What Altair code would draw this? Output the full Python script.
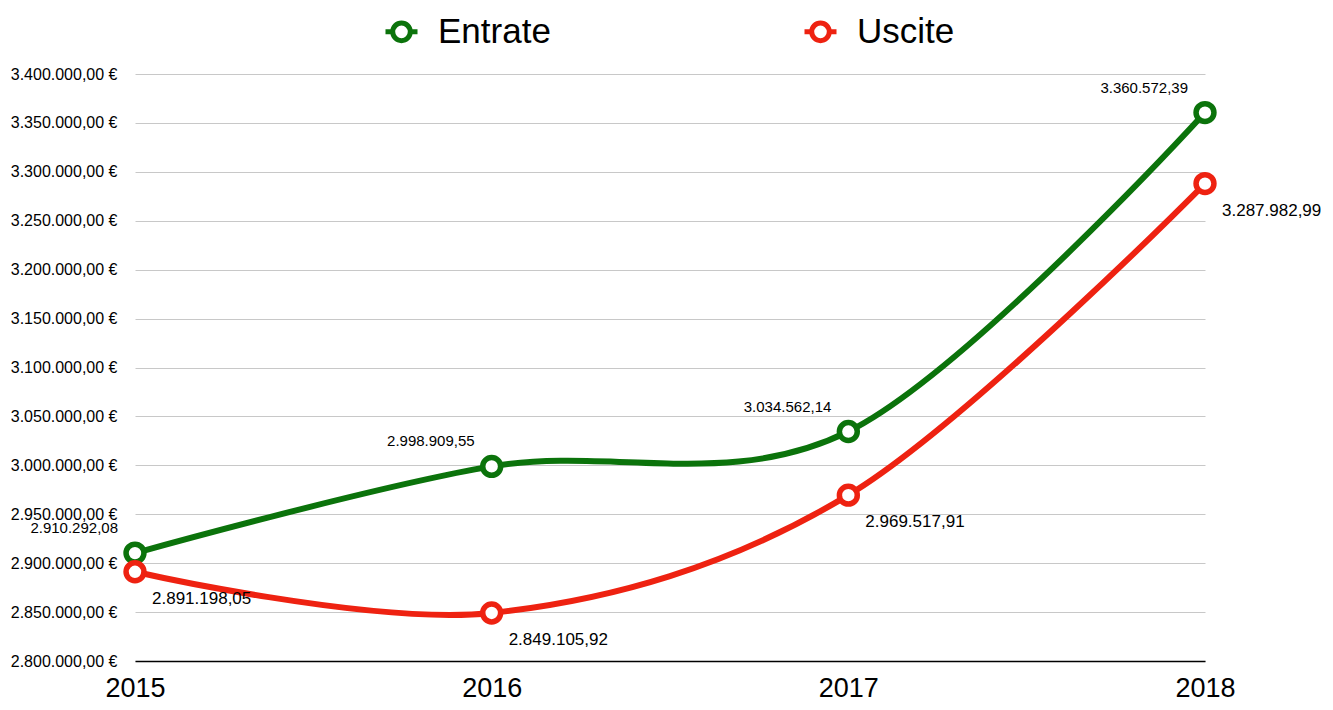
import altair as alt
import pandas as pd

years = ["2015", "2016", "2017", "2018"]
entrate = [2910292.08, 2998909.55, 3034562.14, 3360572.39]
uscite = [2891198.05, 2849105.92, 2969517.91, 3287982.99]
series_names = ["Entrate", "Uscite"]
series_colors = ["#0b730b", "#ee2211"]
y_ticks = [2800000 + 50000 * i for i in range(13)]

rows = []
for y, v in zip(years, entrate):
    rows.append({"year": y, "value": v, "serie": "Entrate"})
for y, v in zip(years, uscite):
    rows.append({"year": y, "value": v, "serie": "Uscite"})
df = pd.DataFrame(rows)

color = alt.Color(
    "serie:N",
    scale=alt.Scale(domain=series_names, range=series_colors),
    legend=alt.Legend(
        title=None,
        orient="none",
        legendX=248,
        legendY=-61,
        direction="horizontal",
        symbolType="M -1 0 L -0.55 0 M 0.55 0 L 1 0 M -0.55 0 A 0.55 0.55 0 1 0 0.55 0 A 0.55 0.55 0 1 0 -0.55 0",
        symbolSize=1024,
        symbolStrokeWidth=5,
        symbolFillColor="white",
        labelFontSize=35,
        labelFont="Liberation Sans",
        labelColor="black",
        labelOffset=18,
        columnPadding=243,
        labelLimit=300,
    ),
)

x = alt.X(
    "year:O",
    scale=alt.Scale(padding=0),
    axis=alt.Axis(
        title=None,
        labelAngle=0,
        labelFontSize=27,
        labelFont="Liberation Sans",
        labelColor="black",
        labelPadding=14,
        ticks=False,
        domainColor="black",
        domainWidth=1.5,
        grid=False,
    ),
)
y = alt.Y(
    "value:Q",
    scale=alt.Scale(domain=[2800000, 3400000], nice=False, zero=False),
    axis=alt.Axis(
        title=None,
        values=y_ticks,
        format="$,.2f",
        labelFontSize=16,
        labelFont="Liberation Sans",
        labelColor="black",
        labelPadding=18,
        ticks=False,
        domain=False,
        gridColor="#c8c8c8",
        gridWidth=1,
    ),
)

base = alt.Chart(df)

lines = base.mark_line(strokeWidth=6, interpolate="cardinal").encode(x=x, y=y, color=color)
points = base.mark_point(
    shape="circle", size=320, filled=True, fill="white", strokeWidth=5.5, opacity=1
).encode(x=x, y=y, stroke=alt.Stroke("serie:N", scale=alt.Scale(domain=series_names, range=series_colors), legend=None))

lab_e = base.transform_filter(alt.datum.serie == "Entrate").mark_text(
    align="right", dx=-17, dy=-25, fontSize=15, font="Liberation Sans", color="black"
).encode(x=x, y=y, text=alt.Text("value:Q", format=",.2f"))

lab_u = base.transform_filter(alt.datum.serie == "Uscite").mark_text(
    align="left", dx=17, dy=27, fontSize=17, font="Liberation Sans", color="black"
).encode(x=x, y=y, text=alt.Text("value:Q", format=",.2f"))

chart = (
    alt.layer(lines, points, lab_e, lab_u)
    .properties(
        width=1070,
        height=587,
        autosize=alt.AutoSizeParams(type="none"),
        padding={"left": 127, "top": 66, "right": 116, "bottom": 41},
    )
    .configure(
        locale=alt.Locale(
            number=alt.NumberLocale(
                decimal=",", thousands=".", grouping=[3], currency=["", " €"]
            )
        )
    )
    .configure_view(stroke=None)
)

chart.save("out.html", embed_options={"renderer": "svg", "actions": False})
